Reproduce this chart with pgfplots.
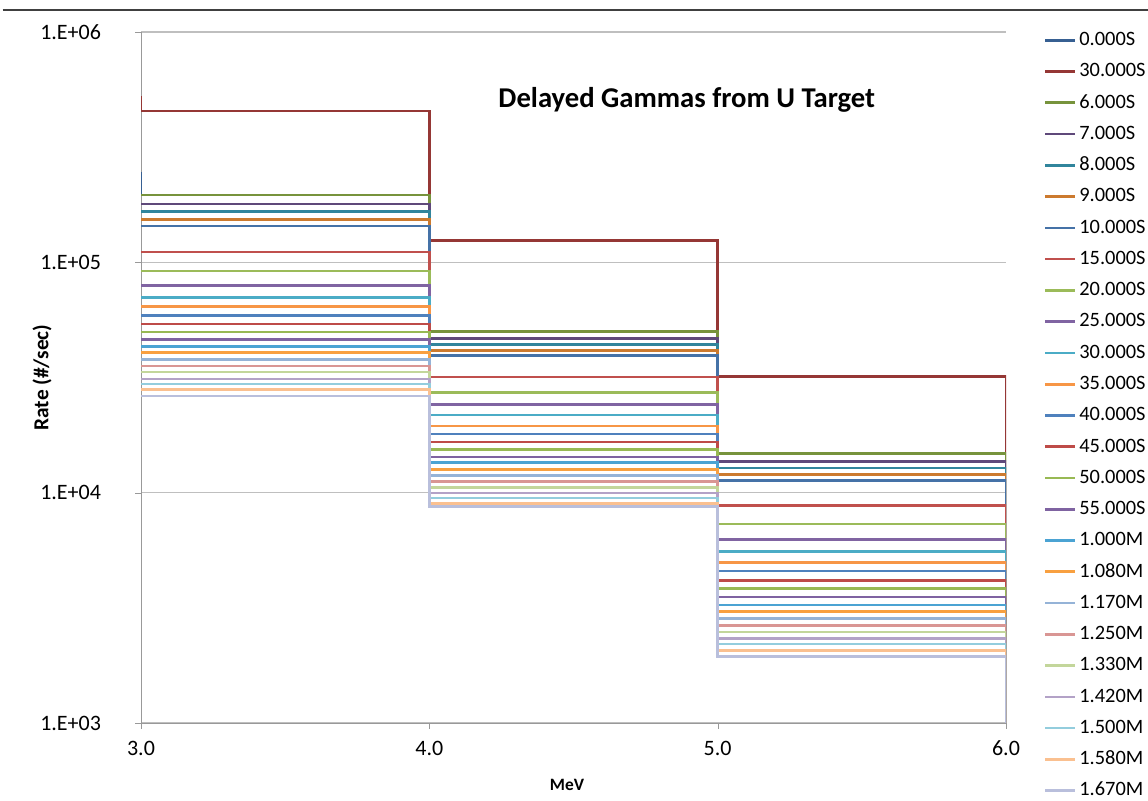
\documentclass[border=0pt]{standalone}
\usepackage{pgfplots}
\usepackage{pgfplotstable}
\usepackage{fontspec}
\setmainfont{Carlito}
\pgfplotsset{compat=1.18}

% step heights: bins 3-4, 4-5, 5-6 MeV (first row = stub at 3.0, last row = drop)
\pgfplotstableread{
x r30 s6 s7 s8 s9 s10 s15 s20 s25 s30 s35 s40 s45 s50 s55 m100 m108 m117 m125 m133 m142 m150 m158 m167
3 5.27e5 1.96e5 1.79e5 1.66e5 1.53e5 1.44e5 1.11e5 9.17e4 7.92e4 7.05e4 6.42e4 5.89e4 5.40e4 4.99e4 4.62e4 4.32e4 4.05e4 3.78e4 3.55e4 3.34e4 3.12e4 2.96e4 2.81e4 2.63e4
3 4.54e5 1.96e5 1.79e5 1.66e5 1.53e5 1.44e5 1.11e5 9.17e4 7.92e4 7.05e4 6.42e4 5.89e4 5.40e4 4.99e4 4.62e4 4.32e4 4.05e4 3.78e4 3.55e4 3.34e4 3.12e4 2.96e4 2.81e4 2.63e4
4 1.24e5 5.00e4 4.66e4 4.39e4 4.15e4 3.94e4 3.18e4 2.72e4 2.41e4 2.17e4 1.95e4 1.80e4 1.66e4 1.54e4 1.43e4 1.35e4 1.26e4 1.19e4 1.12e4 1.055e4 9.97e3 9.48e3 8.99e3 8.69e3
5 3.19e4 1.48e4 1.37e4 1.28e4 1.20e4 1.13e4 8.77e3 7.31e3 6.27e3 5.54e3 4.99e3 4.57e3 4.15e3 3.83e3 3.53e3 3.25e3 3.04e3 2.84e3 2.65e3 2.48e3 2.33e3 2.20e3 2.06e3 1.94e3
6 500 500 500 500 500 500 500 500 500 500 500 500 500 500 500 500 500 500 500 500 500 500 500 500
}\gammas

\definecolor{c0}{HTML}{376092}
\definecolor{c1}{HTML}{953735}
\definecolor{c2}{HTML}{77933C}
\definecolor{c3}{HTML}{5F497A}
\definecolor{c4}{HTML}{31859C}
\definecolor{c5}{HTML}{CC7A2E}
\definecolor{c6}{HTML}{4572A7}
\definecolor{c7}{HTML}{C0504D}
\definecolor{c8}{HTML}{9BBB59}
\definecolor{c9}{HTML}{8064A2}
\definecolor{c10}{HTML}{4BACC6}
\definecolor{c11}{HTML}{F79646}
\definecolor{c12}{HTML}{4F81BD}
\definecolor{c13}{HTML}{BE4B48}
\definecolor{c14}{HTML}{98B954}
\definecolor{c15}{HTML}{7F63A1}
\definecolor{c16}{HTML}{4BA3D3}
\definecolor{c17}{HTML}{F8A040}
\definecolor{c18}{HTML}{95B3D7}
\definecolor{c19}{HTML}{D99694}
\definecolor{c20}{HTML}{C3D69B}
\definecolor{c21}{HTML}{B3A2C7}
\definecolor{c22}{HTML}{93CDDD}
\definecolor{c23}{HTML}{FAC090}
\definecolor{c24}{HTML}{B9BFDC}

\begin{document}
\begin{tikzpicture}
\useasboundingbox (0pt,0pt) rectangle (861pt,600pt);
\draw[line width=1.5pt, black!75] (2pt,592.5pt) -- (861pt,592.5pt);
\begin{axis}[
  at={(105.75pt,57.75pt)}, anchor=south west,
  scale only axis, width=648.75pt, height=518.25pt,
  ymode=log, xmin=3, xmax=6, ymin=1000, ymax=1000000,
  axis x line*=bottom, axis y line*=left, axis line style={-, gray!80},
  xtick={3,4,5,6}, xticklabels={3.0,4.0,5.0,6.0},
  ytick={1000,10000,100000,1000000},
  yticklabels={1.E+03,1.E+04,1.E+05,1.E+06},
  yminorticks=false,
  tick align=outside, major tick length=4.5pt, tick style={gray!80},
  ymajorgrids, grid style={gray!50, line width=0.8pt},
  tick label style={font=\fontsize{16.5}{19}\selectfont},
  yticklabel style={xshift=-22pt},
  xticklabel style={yshift=-5.5pt},
  xlabel={\textbf{MeV}}, ylabel={\textbf{Rate (\#/sec)}},
  xlabel style={font=\fontsize{13}{16}\selectfont, at={(axis description cs:0.4925,-0.0897)}, anchor=center},
  ylabel style={font=\fontsize{16}{19}\selectfont, at={(axis description cs:-0.1145,0.5)}, anchor=center},
  every axis plot/.append style={line width=2pt},
  legend cell align=left,
  legend image code/.code={\draw[#1] (0pt,0pt) -- (22.5pt,0pt);},
  legend style={at={(rel axis cs:1.039,1.0058)}, anchor=north west,
    draw=none, fill=none, font=\fontsize{15.3}{18}\selectfont,
    row sep=9.45pt, nodes={inner sep=0pt, text height=11pt, text depth=3pt},
    /tikz/every odd column/.append style={column sep=2pt}},
]
\addplot[c0] coordinates {(3,2.47e5) (3,1.96e5)};
\addplot[c1, const plot] table[y=r30] {\gammas};
\addplot[c2, const plot] table[y=s6] {\gammas};
\addplot[c3, const plot] table[y=s7] {\gammas};
\addplot[c4, const plot] table[y=s8] {\gammas};
\addplot[c5, const plot] table[y=s9] {\gammas};
\addplot[c6, const plot] table[y=s10] {\gammas};
\addplot[c7, const plot] table[y=s15] {\gammas};
\addplot[c8, const plot] table[y=s20] {\gammas};
\addplot[c9, const plot] table[y=s25] {\gammas};
\addplot[c10, const plot] table[y=s30] {\gammas};
\addplot[c11, const plot] table[y=s35] {\gammas};
\addplot[c12, const plot] table[y=s40] {\gammas};
\addplot[c13, const plot] table[y=s45] {\gammas};
\addplot[c14, const plot] table[y=s50] {\gammas};
\addplot[c15, const plot] table[y=s55] {\gammas};
\addplot[c16, const plot] table[y=m100] {\gammas};
\addplot[c17, const plot] table[y=m108] {\gammas};
\addplot[c18, const plot] table[y=m117] {\gammas};
\addplot[c19, const plot] table[y=m125] {\gammas};
\addplot[c20, const plot] table[y=m133] {\gammas};
\addplot[c21, const plot] table[y=m142] {\gammas};
\addplot[c22, const plot] table[y=m150] {\gammas};
\addplot[c23, const plot] table[y=m158] {\gammas};
\addplot[c24, const plot] table[y=m167] {\gammas};
\legend{0.000S,30.000S,6.000S,7.000S,8.000S,9.000S,10.000S,15.000S,20.000S,25.000S,30.000S,35.000S,40.000S,45.000S,50.000S,55.000S,1.000M,1.080M,1.170M,1.250M,1.330M,1.420M,1.500M,1.580M,1.670M}
\node[font=\bfseries\fontsize{21.5}{25}\selectfont] at (rel axis cs:0.631,0.9016) {Delayed Gammas from U Target};
\end{axis}
\end{tikzpicture}
\end{document}
